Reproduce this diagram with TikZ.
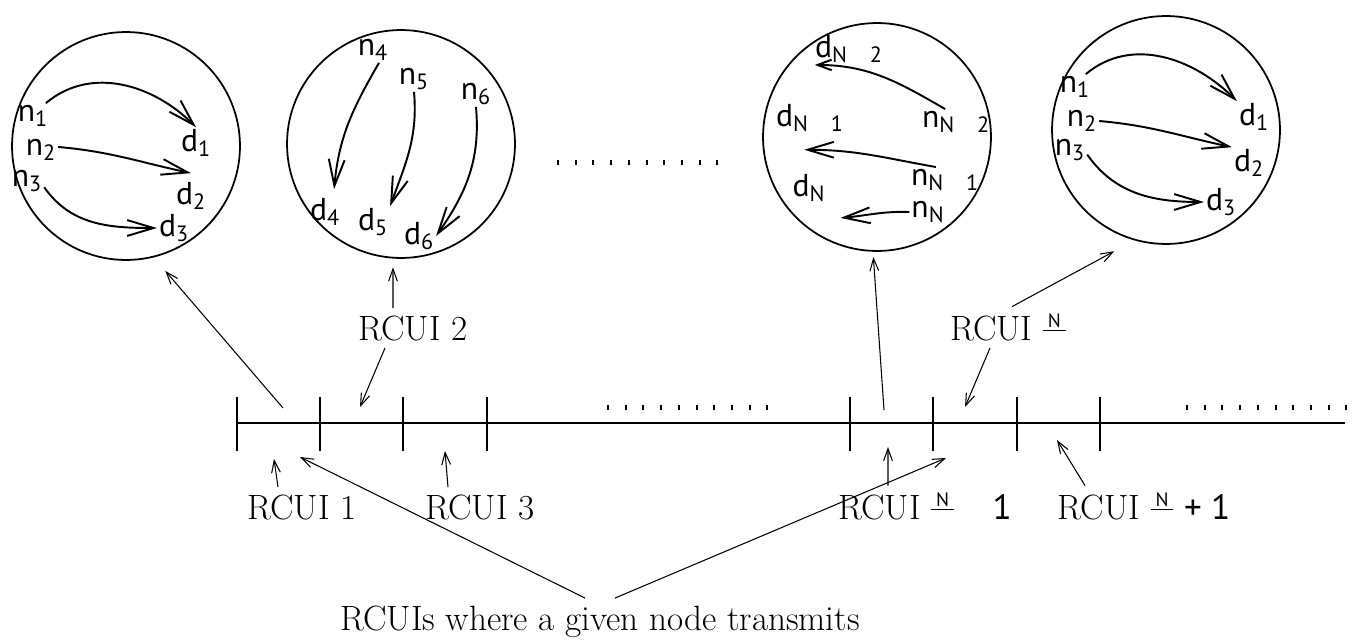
\documentclass[tikz,border=0pt]{standalone}
\usepackage{fontspec}
\newfontfamily\tagfont{PT Sans}
\usetikzlibrary{arrows.meta}

\newcommand{\halfN}{\raisebox{7pt}{\underline{\makebox[13pt]{\tagfont\fontsize{11}{11}\selectfont N}}}}
\newcommand{\gapN}{\hspace{13pt}}

\begin{document}
\begin{tikzpicture}[
        x=0.02cm, y=-0.02cm,
        cell/.style={circle, draw, line width=1pt, minimum size=4.56cm, inner sep=0pt},
        tag/.style={font=\tagfont\fontsize{18}{20}\selectfont, inner sep=1pt},
        rcui/.style={font=\fontsize{20}{23}\selectfont, inner sep=4pt, anchor=base},
        flow/.style={line width=1.1pt, -{Straight Barb[length=15pt,width=9pt]}},
        pointer/.style={line width=0.6pt, -{Straight Barb[length=7pt,width=5pt]}},
        axis/.style={line width=1.2pt}
    ]
        \useasboundingbox (0,0) rectangle (1362,642);

        % Cells
        \node[cell] (cellA) at (126,146) {};
        \node[cell] (cellB) at (401,144) {};
        \node[cell] (cellC) at (877,137) {};
        \node[cell] (cellD) at (1166,130) {};

        % Cell 1
        \node[tag] (nA1) at (33,116) {n\textsubscript{1}};
        \node[tag] (nA2) at (41,150) {n\textsubscript{2}};
        \node[tag] (nA3) at (27,181) {n\textsubscript{3}};
        \node[tag] (dA1) at (196,143) {d\textsubscript{1}};
        \node[tag] (dA2) at (191,196) {d\textsubscript{2}};
        \node[tag] (dA3) at (174,228) {d\textsubscript{3}};
        \draw[flow] (nA1.45) to[out=40,in=135] (dA1.north);
        \draw[flow] (nA2.10) to[out=-5,in=168] ([yshift=4pt]dA2.north);
        \draw[flow] (nA3.-20) to[out=-55,in=180] (dA3.west);

        % Cell 2
        \node[tag] (nB4) at (373,50) {n\textsubscript{4}};
        \node[tag] (nB5) at (414,79) {n\textsubscript{5}};
        \node[tag] (nB6) at (476,94) {n\textsubscript{6}};
        \node[tag] (dB4) at (325,212) {d\textsubscript{4}};
        \node[tag] (dB5) at (373,222) {d\textsubscript{5}};
        \node[tag] (dB6) at (419,236) {d\textsubscript{6}};
        \draw[flow] (nB4.-65) to[out=240,in=85] ([yshift=4pt]dB4.60);
        \draw[flow] (nB5.south) to[out=-85,in=70] (dB5.north east);
        \draw[flow] (nB6.south) to[out=-85,in=55] (dB6.east);

        % Cell N/2
        \node[tag] (dC2) at (849,49) {d\textsubscript{N\gapN 2}};
        \node[tag] (dC1) at (810,118) {d\textsubscript{N\gapN 1}};
        \node[tag] (dC0) at (809,188) {d\textsubscript{N}};
        \node[tag] (nC2) at (956,122) {n\textsubscript{N\gapN 2}};
        \node[tag] (nC1) at (945,180) {n\textsubscript{N\gapN 1}};
        \node[tag] (nC0) at (928,212) {n\textsubscript{N}};
        \draw[flow, -{Straight Barb[length=8pt,width=6pt]}] (nC2.130) to[out=150,in=0] (dC2.205);
        \draw[flow] (nC1.125) to[out=170,in=0] ([yshift=-9pt]dC1.250);
        \draw[flow] (nC0.west) to[out=178,in=5] ([xshift=0.26cm,yshift=-0.28cm]dC0.south east);

        % Cell N/2 + 1
        \node[tag] (nD1) at (1075,87) {n\textsubscript{1}};
        \node[tag] (nD2) at (1082,121) {n\textsubscript{2}};
        \node[tag] (nD3) at (1070,150) {n\textsubscript{3}};
        \node[tag] (dD1) at (1254,117) {d\textsubscript{1}};
        \node[tag] (dD2) at (1249,163) {d\textsubscript{2}};
        \node[tag] (dD3) at (1221,202) {d\textsubscript{3}};
        \draw[flow] (nD1.50) to[out=40,in=135] (dD1.north west);
        \draw[flow] (nD2.east) to[out=-5,in=168] (dD2.north west);
        \draw[flow] (nD3.-15) to[out=-55,in=180] (dD3.west);

        % Time line
        \draw[axis] (237,423) -- (1345,423);
        \foreach \x in {237,320,403,487,850,933,1017,1100}
            \draw[axis] (\x,397) -- (\x,451);
        \foreach \x/\y in {558/162, 608/407, 1187/407}
            \foreach \i in {0,...,9}
                \fill (\x+\i*17.7-1,\y-2.5) rectangle ++(2,5);

        % Labels
        \node[rcui] (rcuiA) at (302,519) {RCUI 1};
        \node[rcui] (rcuiB) at (413,340) {RCUI 2};
        \node[rcui] (rcuiC) at (480,519) {RCUI 3};
        \node[rcui] (rcuiH) at (1008,340) {RCUI \halfN};
        \node[rcui] (rcuiHa) at (925,519) {RCUI \halfN\gapN\hspace{9pt}{\tagfont 1}};
        \node[rcui] (rcuiHb) at (1144,519) {RCUI \halfN\ {\tagfont + 1}};
        \node[rcui] (where) at (600,630) {RCUIs where a given node transmits};

        % Slots on the time line
        \coordinate (slotA) at (283,408);
        \coordinate (slotB) at (360,407);
        \coordinate (slotA1) at (274,459);
        \coordinate (slotC) at (445,451);
        \coordinate (slotA2) at (300,457);
        \coordinate (slotH) at (884,410);
        \coordinate (slotH1) at (888,447);
        \coordinate (slotH2) at (946,458);
        \coordinate (slotI) at (965,407);
        \coordinate (slotJ) at (1057,440);

        % Pointers
        \draw[pointer, shorten >=10pt] (slotA) -- (cellA.-76);
        \draw[pointer, shorten >=5pt] ([xshift=-0.4cm]rcuiB.north) -- (cellB.-94);
        \draw[pointer] ([xshift=-0.56cm]rcuiB.south) -- (slotB);
        \draw[pointer] ([xshift=-0.48cm]rcuiA.north) -- (slotA1);
        \draw[pointer] ([xshift=-0.64cm]rcuiC.north) -- (slotC);
        \draw[pointer] ([xshift=-0.3cm]where.north) -- (slotA2);
        \draw[pointer] ([xshift=0.3cm]where.north) -- (slotH2);
        \draw[pointer, shorten >=3pt] (slotH) -- (cellC.-92);
        \draw[pointer, shorten >=13pt] ([xshift=0.08cm]rcuiH.north) -- (cellD.-106);
        \draw[pointer] ([xshift=-0.36cm]rcuiH.south) -- (slotI);
        \draw[pointer] ([xshift=-0.74cm]rcuiHa.north) -- (slotH1);
        \draw[pointer] ([xshift=-1.18cm]rcuiHb.north) -- (slotJ);

    \end{tikzpicture}
\end{document}
